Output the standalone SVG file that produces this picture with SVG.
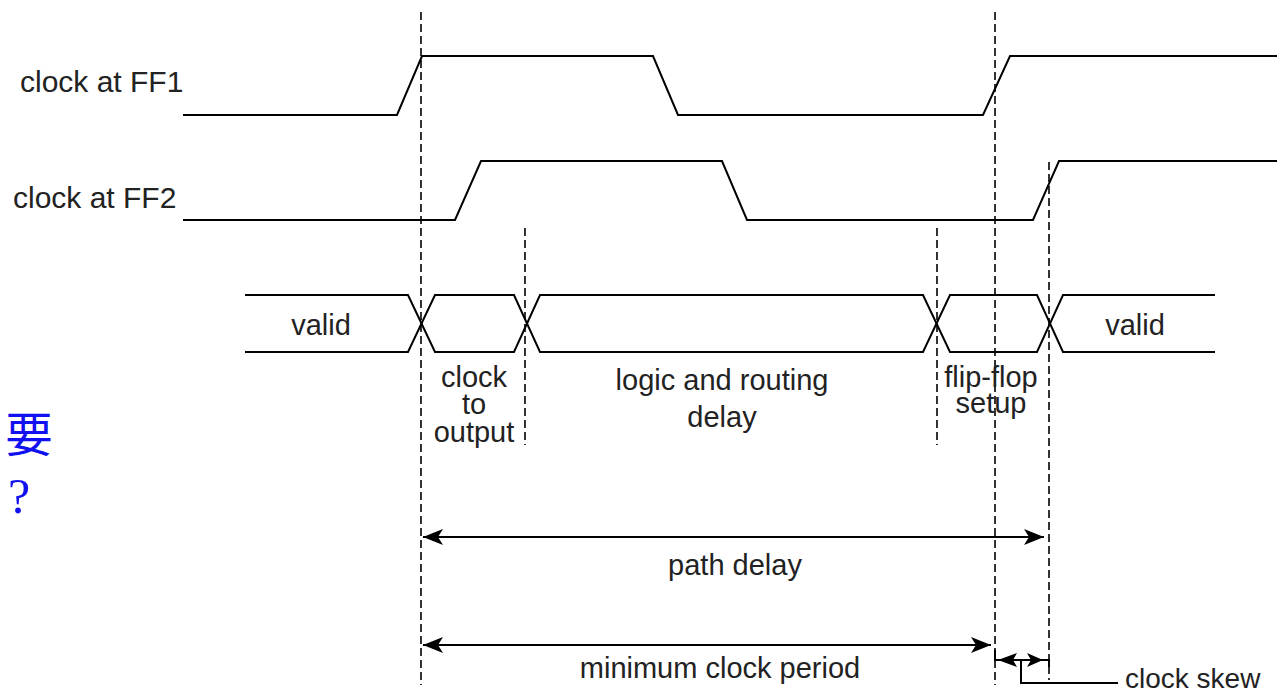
<svg xmlns="http://www.w3.org/2000/svg" width="1277" height="693" viewBox="0 0 1277 693">
<style>
.sig{fill:none;stroke:#000;stroke-width:2;stroke-linejoin:miter}
.dash{fill:none;stroke:#000;stroke-width:1.6;stroke-dasharray:8,4}
.arr{fill:none;stroke:#000;stroke-width:2}
.head{fill:#000}
.lbl{font-family:"Liberation Sans",Arial,sans-serif;font-size:29px;fill:#222}
.mid{text-anchor:middle}
</style>
<defs>
<marker id="ah" markerUnits="userSpaceOnUse" markerWidth="24" markerHeight="18" refX="20" refY="8" orient="auto-start-reverse">
<path d="M20,8 L0,0 L5,8 L0,16 Z" fill="#000"/>
</marker>
</defs>
<rect width="1277" height="693" fill="#fff"/>

<g id="clk1">
<polyline class="sig" points="183,115 397,115 422,56 653,56 678,115 983,115 1010,56 1277,56"/>
<text class="lbl" x="20" y="92" style="font-size:30px">clock at FF1</text>
</g>
<g id="clk2">
<polyline class="sig" points="183,220 455,220 481,161 722,161 747,220 1033,220 1059,161 1277,161"/>
<text class="lbl" x="13" y="208" style="font-size:30px">clock at FF2</text>
</g>

<g id="data">
<polyline class="sig" points="245,295 408,295 435,352 514,352 540,295 923,295 950,352 1037,352 1063,295 1215,295"/>
<polyline class="sig" points="245,352 408,352 435,295 514,295 540,352 923,352 950,295 1037,295 1063,352 1215,352"/>
<text class="lbl mid" x="321" y="335">valid</text>
<text class="lbl mid" x="1135" y="335">valid</text>
</g>

<g id="guides">
<line class="dash" x1="421" y1="12" x2="421" y2="685"/>
<line class="dash" x1="995" y1="12" x2="995" y2="685"/>
<line class="dash" x1="1049" y1="162" x2="1049" y2="680"/>
<line class="dash" x1="525" y1="228" x2="525" y2="445"/>
<line class="dash" x1="937" y1="228" x2="937" y2="445"/>
</g>

<g id="lbl-c2o">
<text class="lbl mid" x="474" y="387">clock</text>
<text class="lbl mid" x="474" y="414">to</text>
<text class="lbl mid" x="474" y="442">output</text>
</g>
<g id="lbl-logic">
<text class="lbl mid" x="722" y="390">logic and routing</text>
<text class="lbl mid" x="722" y="427">delay</text>
</g>
<g id="lbl-setup">
<text class="lbl mid" x="991" y="387">flip-flop</text>
<text class="lbl mid" x="991" y="413">setup</text>
</g>

<g id="connectors">
<line class="arr" x1="423" y1="537" x2="1044" y2="537" marker-start="url(#ah)" marker-end="url(#ah)"/>
<line class="arr" x1="423" y1="645" x2="991" y2="645" marker-start="url(#ah)" marker-end="url(#ah)"/>
<polyline class="arr" points="995,650 995,660 1049,660 1049,667"/>
<path class="head" d="M998,660 L1017,653 L1013,660 L1017,667 Z"/>
<path class="head" d="M1043,660 L1027,653 L1031,660 L1027,667 Z"/>
<polyline class="arr" points="1021,660 1021,683 1118,683"/>
</g>

<g id="lbl-path"><text class="lbl mid" x="735" y="575">path delay</text></g>
<g id="lbl-min"><text class="lbl mid" x="720" y="678">minimum clock period</text></g>
<g id="lbl-skew"><text class="lbl" x="1125" y="688" style="font-size:28px">clock skew</text></g>

<g id="note">
<text x="5" y="452" style="font-family:'Noto Sans CJK SC','Noto Sans CJK JP',serif;font-size:48px;fill:#1010f0">要</text>
<text x="8" y="513" style="font-family:'Liberation Serif','Noto Sans CJK SC',serif;font-size:50px;fill:#1010f0">?</text>
</g>
</svg>
